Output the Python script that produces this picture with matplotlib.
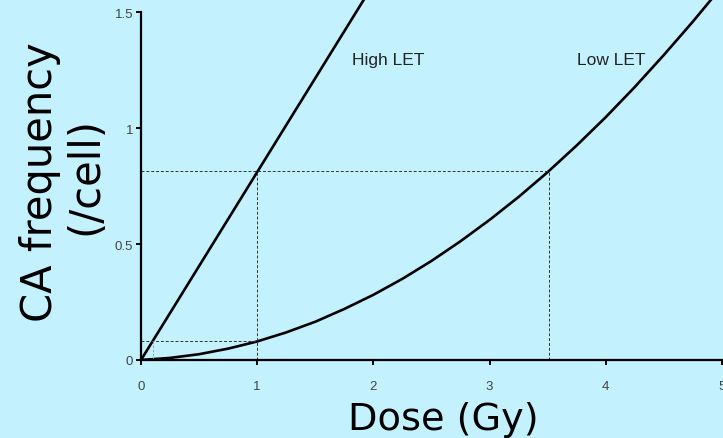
import matplotlib
matplotlib.use("Agg")
import matplotlib.pyplot as plt

# ---- data ----
high_dose = [0.0, 1.0, 2.0]
high_freq = [0.0, 0.81, 1.62]

low_dose = [0.0, 0.25, 0.5, 0.75, 1.0, 1.25, 1.5, 1.75, 2.0, 2.25, 2.5,
            2.75, 3.0, 3.25, 3.5, 3.75, 4.0, 4.25, 4.5, 4.75, 5.0]
low_freq = [0.0, 0.009, 0.025, 0.049, 0.080, 0.119, 0.165, 0.220, 0.281,
            0.350, 0.427, 0.512, 0.604, 0.703, 0.810, 0.925, 1.047, 1.177,
            1.315, 1.459, 1.610]

x_ticks = [0, 1, 2, 3, 4, 5]
x_tick_labels = ["0", "1", "2", "3", "4", "5"]
y_ticks = [0, 0.5, 1, 1.5]
y_tick_labels = ["0", "0.5", "1", "1.5"]

ref_freq = 0.815      # equal-effect frequency (upper dashed line)
ref_high_dose = 1.0
ref_low_dose = 3.51
low_ref_freq = 0.08   # low LET effect at 1 Gy
high_small_dose = 0.1

labels = ["High LET", "Low LET"]
label_pos = [(1.82, 1.295), (3.75, 1.295)]

bg = "#c4f1fe"

fig = plt.figure(figsize=(7.23, 4.39), dpi=100)
fig.patch.set_facecolor(bg)
ax = fig.add_axes([141 / 723, (439 - 361) / 439, (722 - 141) / 723, 361 / 439])
ax.set_facecolor(bg)

ax.plot(high_dose, high_freq, color="black", lw=1.9, solid_capstyle="round")
ax.plot(low_dose, low_freq, color="black", lw=1.9)

dash = dict(color="#333333", lw=0.7, ls=(0, (3, 2)))
ax.plot([0, ref_low_dose], [ref_freq, ref_freq], **dash)
ax.plot([ref_high_dose, ref_high_dose], [0, ref_freq], **dash)
ax.plot([ref_low_dose, ref_low_dose], [0, ref_freq], **dash)
ax.plot([0, ref_high_dose], [low_ref_freq, low_ref_freq], **dash)
ax.plot([high_small_dose, high_small_dose], [0, low_ref_freq],
        color="#9a9a9a", lw=0.6, ls=(0, (3, 2)))

for t, (x, y) in zip(labels, label_pos):
    ax.text(x, y, t, fontsize=12.5, color="#222222", family="Liberation Sans",
            ha="left", va="center")

ax.set_xlim(0, 5)
ax.set_ylim(0, 1.5 + 13 / 232)
for s in ["top", "right"]:
    ax.spines[s].set_visible(False)
ax.spines["left"].set_bounds(0, 1.5)
ax.spines["left"].set_linewidth(1.6)
ax.spines["bottom"].set_linewidth(1.6)

ax.set_xticks(x_ticks)
ax.set_xticklabels(x_tick_labels)
ax.set_yticks(y_ticks)
ax.set_yticklabels(y_tick_labels)
ax.tick_params(direction="out", length=3.5, width=1.4, labelsize=9.5,
               labelcolor="#444444")
ax.tick_params(axis="x", pad=11)
ax.tick_params(axis="y", pad=2)
for lab in ax.get_xticklabels() + ax.get_yticklabels():
    lab.set_family("Liberation Sans")

big_font = ["DejaVu Sans"]
fig.text(443 / 723, 1 - 430 / 439, "Dose (Gy)", fontsize=27.5,
         family=big_font, ha="center", va="baseline")
fig.text(52 / 723, 1 - 182.5 / 439, "CA frequency", fontsize=30,
         family=big_font, ha="center", va="baseline",
         rotation=90, rotation_mode="anchor")
fig.text(97 / 723, 1 - 176.5 / 439, "(/cell)", fontsize=30,
         family=big_font, ha="center", va="baseline",
         rotation=90, rotation_mode="anchor")

fig.savefig("out.png", dpi=100, facecolor=bg)
